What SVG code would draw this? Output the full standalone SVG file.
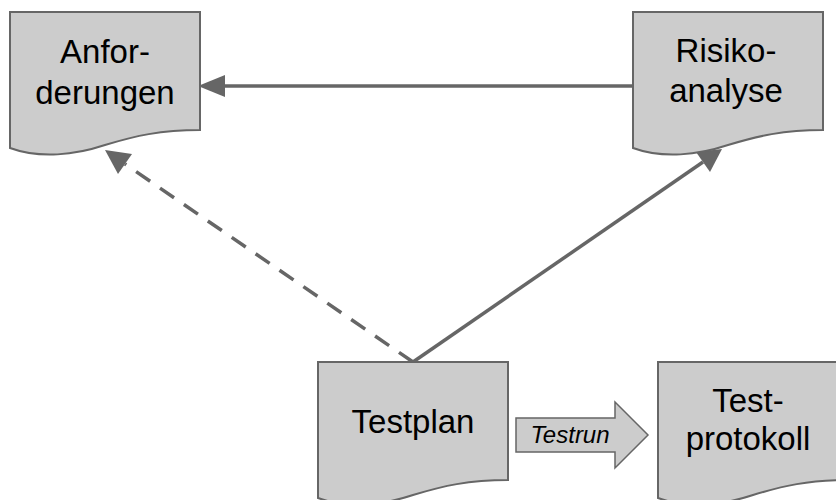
<svg xmlns="http://www.w3.org/2000/svg" width="836" height="500" viewBox="0 0 836 500">
  <style>
    .doc { fill: #cccccc; stroke: #666666; stroke-width: 2; }
    .label { font-family: "Liberation Sans", Arial, sans-serif; font-size: 33px; fill: #000000; text-anchor: middle; }
    .edge { fill: none; stroke: #666666; stroke-width: 3.5; }
    .dashed { stroke-dasharray: 17 12; }
    .block { fill: #cccccc; stroke: #666666; stroke-width: 1.5; }
    .small { font-family: "Liberation Sans", Arial, sans-serif; font-size: 24px; font-style: italic; fill: #000000; text-anchor: middle; }
    .head { fill: #666666; }
  </style>
  <defs>
    <!-- document shape: flat top, wavy bottom -->
    <path id="docShape" d="M0,0 H190 V118 C150,118 125,124 95,133 C65,143 30,147 0,136 Z"/>
  </defs>

  <g id="connectors">
    <line class="edge" x1="633" y1="86" x2="222" y2="86"/>
    <path class="head" d="M225,75 L198,86 L225,97 Z"/>
    <line class="edge" x1="413" y1="362" x2="703" y2="162"/>
    <path class="head" d="M696,152 L722,149 L710,172 Z"/>
    <line class="edge dashed" x1="413" y1="362" x2="125" y2="164"/>
    <path class="head" d="M118,174 L105,150 L132,154 Z"/>
  </g>

  <g id="anforderungen">
    <use href="#docShape" class="doc" transform="translate(10,12)"/>
    <text class="label" x="105" y="63">Anfor-</text>
    <text class="label" x="105" y="104">derungen</text>
  </g>

  <g id="risikoanalyse">
    <use href="#docShape" class="doc" transform="translate(633,12)"/>
    <text class="label" x="726" y="62">Risiko-</text>
    <text class="label" x="726" y="102">analyse</text>
  </g>

  <g id="testplan">
    <use href="#docShape" class="doc" transform="translate(318,362)"/>
    <text class="label" x="413" y="433">Testplan</text>
  </g>

  <g id="testrun">
    <polygon class="block" points="516,418 615,418 615,402 648,435 615,468 615,452 516,452"/>
    <text class="small" x="570" y="443">Testrun</text>
  </g>

  <g id="testprotokoll">
    <use href="#docShape" class="doc" transform="translate(658,362)"/>
    <text class="label" x="748" y="412">Test-</text>
    <text class="label" x="748" y="450">protokoll</text>
  </g>
</svg>
